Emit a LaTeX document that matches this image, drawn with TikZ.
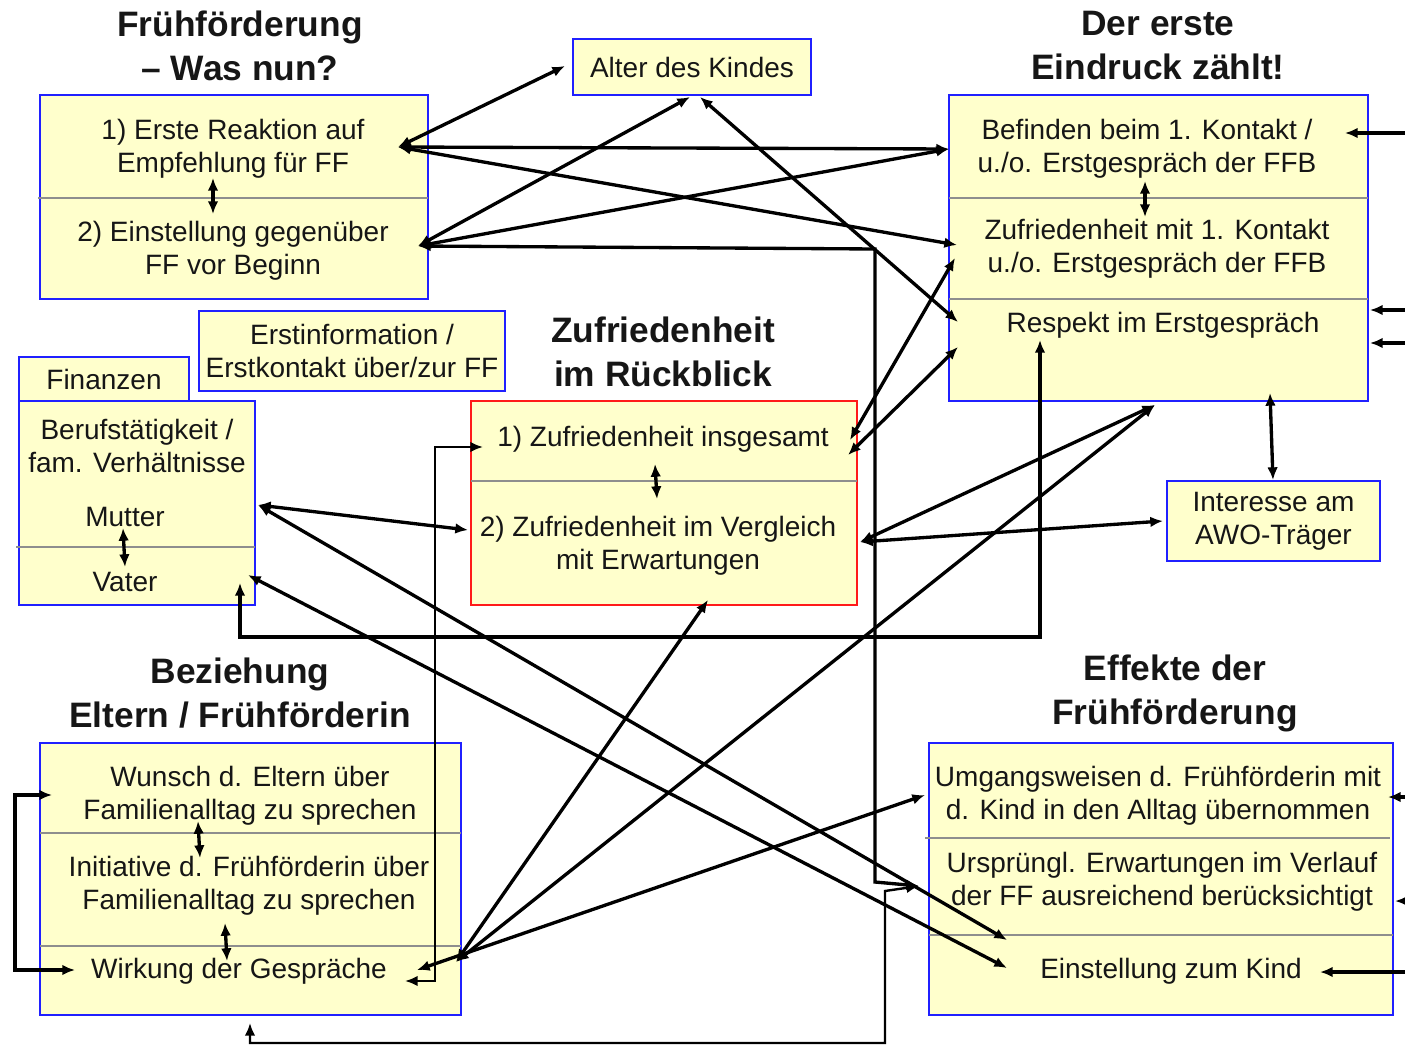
\documentclass[tikz,border=0pt]{standalone}
\usepackage{fontspec}
\setmainfont{Liberation Sans}
\usetikzlibrary{arrows.meta}
\definecolor{boxfill}{HTML}{FFFFCC}
\definecolor{boxblue}{HTML}{2020FF}
\definecolor{boxred}{HTML}{FF1A1A}
\definecolor{divgray}{HTML}{8E8E8E}
\definecolor{txtcol}{HTML}{161616}
\begin{document}
\begin{tikzpicture}[x=0.75pt,y=-0.75pt,
  >={Latex[length=9.5pt,width=8pt]},
  box/.style={draw=boxblue,fill=boxfill,line width=1.3pt,inner sep=0pt,rectangle},
  redbox/.style={box,draw=boxred},
  divider/.style={draw=divgray,line width=1.8pt},
  txt/.style={align=center,font=\fontsize{21}{25}\selectfont,text=txtcol,inner sep=0pt},
  head/.style={align=center,font=\bfseries\fontsize{26.5}{33}\selectfont,text=txtcol,inner sep=0pt},
  conn/.style={line width=2.5pt,<->},
  thinconn/.style={line width=1.8pt,<->},
  oneway/.style={line width=2.5pt,->}]
\useasboundingbox (0,0) rectangle (1405,1045);
\fill[white] (0,0) rectangle (1405,1045);

% ---------- headings
\node[head] (h1) at (240,46) {Frühförderung\\– Was nun?};
\node[head] (h2) at (1158,46) {Der erste\\Eindruck zählt!};
\node[head] (h3) at (663,352) {Zufriedenheit\\im Rückblick};
\node[head] (h4) at (240,693) {Beziehung\\Eltern / Frühförderin};
\node[head] (h5) at (1175,693) {Effekte der\\Frühförderung};

% ---------- boxes
\node[box,minimum width=291pt,minimum height=153pt] (boxA) at (234,197) {};
\node[box,txt,minimum width=178.5pt,minimum height=42pt] (alter) at (692,67) {Alter des Kindes};
\node[box,minimum width=314.25pt,minimum height=229.5pt] (boxB) at (1158.5,248) {};
\node[box,txt,minimum width=229.5pt,minimum height=60pt] (erst) at (352,351) {Erstinformation /\\Erstkontakt über/zur FF};
\node[box,txt,minimum width=127.5pt,minimum height=33pt] (fin) at (104,379) {Finanzen};
\node[box,minimum width=177pt,minimum height=153pt] (beruf) at (137,503) {};
\node[redbox,minimum width=289.5pt,minimum height=153pt] (red) at (664,503) {};
\node[box,txt,minimum width=159.75pt,minimum height=60pt] (inter) at (1273.5,521) {Interesse am\\AWO-Träger};
\node[box,minimum width=315.75pt,minimum height=204pt] (boxC) at (250.5,879) {};
\node[box,minimum width=348pt,minimum height=204pt] (boxD) at (1161,879) {};

% ---------- dividers
\draw[divider] (38,198) -- (428,198);
\draw[divider] (949,198) -- (1368,198);
\draw[divider] (949,299) -- (1368,299);
\draw[divider] (16,547) -- (255,547);
\draw[divider] (471,481) -- (857,481);
\draw[divider] (40,833) -- (461,833);
\draw[divider] (40,946) -- (461,946);
\draw[divider] (925,838) -- (1390,838);
\draw[divider] (929,935) -- (1393,935);

% ---------- texts
\node[txt] (tA1) at (233,149) {1) Erste Reaktion auf\\Empfehlung für FF};
\node[txt] (tA2) at (233,251) {2) Einstellung gegenüber\\FF vor Beginn};
\node[txt] (tB1) at (1147,149) {Befinden beim 1. Kontakt /\\u./o. Erstgespräch der FFB};
\node[txt] (tB2) at (1157,249) {Zufriedenheit mit 1. Kontakt\\u./o. Erstgespräch der FFB};
\node[txt] (tB3) at (1163,325) {Respekt im Erstgespräch};
\node[txt] (tBeruf) at (137,446) {Berufstätigkeit /\\fam. Verhältnisse};
\node[txt] (tMut) at (125,517) {Mutter};
\node[txt] (tVat) at (125,582) {Vater};
\node[txt] (tR1) at (663,439) {1) Zufriedenheit insgesamt};
\node[txt] (tR2) at (658,546) {2) Zufriedenheit im Vergleich\\mit Erwartungen};
\node[txt] (tC1) at (250,796) {Wunsch d. Eltern über\\Familienalltag zu sprechen};
\node[txt] (tC2) at (249,886) {Initiative d. Frühförderin über\\Familienalltag zu sprechen};
\node[txt] (tC3) at (239,971) {Wirkung der Gespräche};
\node[txt] (tD1) at (1158,796) {Umgangsweisen d. Frühförderin mit\\d. Kind in den Alltag übernommen};
\node[txt] (tD2) at (1162,882) {Ursprüngl. Erwartungen im Verlauf\\der FF ausreichend berücksichtigt};
\node[txt] (tD3) at (1171,971) {Einstellung zum Kind};

% ---------- connector anchors
\coordinate (pA1) at (398,147);
\coordinate (pA2) at (418,246);
\coordinate (alL) at (565,66);
\coordinate (alB1) at (690,97);
\coordinate (alB2) at (700,97);
\coordinate (bB1) at (949,149);
\coordinate (bB2a) at (957,245);
\coordinate (bB2b) at (955,258);
\coordinate (bB3a) at (958,322);
\coordinate (bB3b) at (958,347);
\coordinate (bBot) at (1155,405);
\coordinate (bBot2) at (1270,393);
\coordinate (intT) at (1273,480);
\coordinate (intL) at (1163,521);
\coordinate (bRes) at (1040,340);
\coordinate (r1L) at (483,447);
\coordinate (r1Ra) at (850,440);
\coordinate (r1Rb) at (848,455);
\coordinate (r2L) at (468,530);
\coordinate (r2R) at (860,542);
\coordinate (r2B) at (708,600);
\coordinate (mut) at (258,505);
\coordinate (vat) at (248,575);
\coordinate (vatB) at (240,583);
\coordinate (wR1) at (456,962);
\coordinate (wR2) at (417,970);
\coordinate (wR3) at (405,981);
\coordinate (wL) at (75,970);
\coordinate (wunL) at (52,795);
\coordinate (cBot) at (250,1023);
\coordinate (umL) at (925,795);
\coordinate (ursL) at (919,886);
\coordinate (einA) at (1007,940);
\coordinate (einB) at (1007,968);
% off-picture ends on the right
\coordinate (e1) at (1405,133);  \coordinate (e1t) at (1345,133);
\coordinate (e2) at (1405,310);  \coordinate (e2t) at (1370,310);
\coordinate (e3) at (1405,343);  \coordinate (e3t) at (1370,343);
\coordinate (e4) at (1405,797);  \coordinate (e4t) at (1388,797);
\coordinate (e5) at (1405,901);  \coordinate (e5t) at (1395,901);
\coordinate (e6) at (1405,972);  \coordinate (e6t) at (1320,972);
% internal short arrows
\coordinate (iA1) at (213,178); \coordinate (iA2) at (213,214);
\coordinate (iB1) at (1145,181); \coordinate (iB2) at (1145,217);
\coordinate (iF1) at (123,528); \coordinate (iF2) at (125,567);
\coordinate (iR1) at (655,464); \coordinate (iR2) at (657,499);
\coordinate (iC1) at (198,821); \coordinate (iC2) at (200,858);
\coordinate (iC3) at (225,923); \coordinate (iC4) at (227,961);

% ---------- connectors
\draw[conn] (pA1) -- (alL);
\draw[conn] (pA1) -- (bB1);
\draw[conn] (pA1) -- (bB2a);
\draw[conn] (pA2) -- (alB1);
\draw[conn] (pA2) -- (bB1);
\draw[conn] (pA2) -- (875,249) -- (875,882) -- (ursL);
\draw[thinconn] (cBot) -- (250,1043) -- (885,1043) -- (885,891) -- (ursL);
\draw[conn] (alB2) -- (bB3a);
\draw[conn] (r1Ra) -- (bB2b);
\draw[conn] (r1Rb) -- (bB3b);
\draw[conn] (r2R) -- (bBot);
\draw[conn] (r2R) -- (intL);
\draw[conn] (bBot2) -- (intT);
\draw[conn] (bBot) -- (wR1);
\draw[conn] (r2B) -- (wR1);
\draw[conn] (umL) -- (wR2);
\draw[conn] (mut) -- (r2L);
\draw[conn] (mut) -- (einA);
\draw[conn] (vat) -- (einB);
\draw[conn] (vatB) -- (240,637) -- (1040,637) -- (bRes);
\draw[thinconn] (r1L) -- (435,447) -- (435,981) -- (wR3);
\draw[conn] (wunL) -- (15,795) -- (15,970) -- (wL);
\draw[oneway] (e1) -- (e1t);
\draw[oneway] (e2) -- (e2t);
\draw[oneway] (e3) -- (e3t);
\draw[oneway] (e4) -- (e4t);
\draw[oneway] (e5) -- (e5t);
\draw[oneway] (e6) -- (e6t);
\draw[conn] (iA1) -- (iA2);
\draw[conn] (iB1) -- (iB2);
\draw[conn] (iF1) -- (iF2);
\draw[conn] (iR1) -- (iR2);
\draw[conn] (iC1) -- (iC2);
\draw[conn] (iC3) -- (iC4);
\end{tikzpicture}
\end{document}
